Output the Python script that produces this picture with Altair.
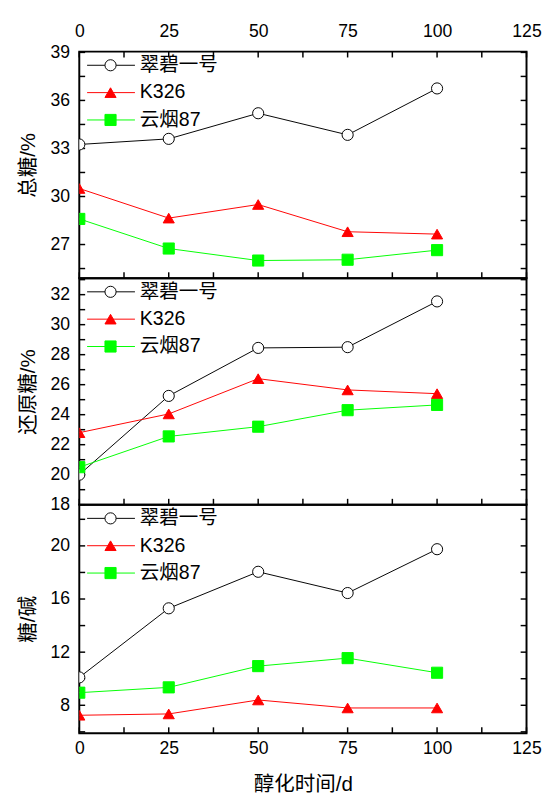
import altair as alt
import pandas as pd

FONT = "Liberation Sans, Noto Sans CJK SC"

days = [0, 25, 50, 75, 100]
series = ["翠碧一号", "K326", "云烟87"]
stroke_colors = ["black", "red", "#00ff00"]
fill_colors = ["white", "red", "#00ff00"]
shapes = ["circle", "triangle-up", "square"]

# 总糖/%
total_cuibi = [33.25, 33.6, 35.2, 33.85, 36.75]
total_k326 = [30.5, 28.65, 29.5, 27.8, 27.65]
total_yy87 = [28.6, 26.75, 26.0, 26.05, 26.65]

# 还原糖/%
reduc_cuibi = [20.0, 25.25, 28.45, 28.5, 31.55]
reduc_k326 = [22.8, 24.05, 26.4, 25.65, 25.4]
reduc_yy87 = [20.5, 22.55, 23.2, 24.3, 24.65]

# 糖/碱
ratio_cuibi = [10.1, 15.3, 18.05, 16.45, 19.75]
ratio_k326 = [7.25, 7.35, 8.4, 7.8, 7.8]
ratio_yy87 = [8.95, 9.35, 10.95, 11.55, 10.45]

x_ticks = [0, 12.5, 25, 37.5, 50, 62.5, 75, 87.5, 100, 112.5, 125]
y_ticks_total = [25.5, 27, 28.5, 30, 31.5, 33, 34.5, 36, 37.5, 39]
y_ticks_reduc = list(range(18, 34))
y_ticks_ratio = [6, 8, 10, 12, 14, 16, 18, 20, 22]
legend_rows = [14, 42, 70]

W = 458
TICK = 6


def long_df(a, b, c):
    rows = []
    for name, vals in zip(series, [a, b, c]):
        for d, v in zip(days, vals):
            rows.append({"day": d, "value": v, "series": name})
    return pd.DataFrame(rows)


legend_df = pd.DataFrame({"series": series})

stroke_enc = alt.Stroke("series:N", scale=alt.Scale(domain=series, range=stroke_colors), legend=None)
fill_enc = alt.Fill("series:N", scale=alt.Scale(domain=series, range=fill_colors), legend=None)
shape_enc = alt.Shape("series:N", scale=alt.Scale(domain=series, range=shapes), legend=None)


def label_axis(orient, values, label_expr, title=None, pad=10, title_pad=12):
    kw = dict(
        orient=orient, values=values, ticks=False, tickSize=0, domain=False,
        grid=False, labelFontSize=18, labelColor="black", labelFont=FONT,
        labelPadding=pad, labelExpr=label_expr, labelFlush=False,
    )
    if title is not None:
        kw.update(title=title, titleFontSize=21, titleFontWeight="normal",
                  titleFont=FONT, titleColor="black", titlePadding=title_pad)
    else:
        kw["title"] = None
    return alt.Axis(**kw)


def panel(df, ytitle, ydomain, yvals, ylabel_expr, top_labels, bottom_labels, top_ticks, H):
    xs = alt.Scale(domain=[0, 125], nice=False, zero=False)
    ys = alt.Scale(domain=ydomain, nice=False, zero=False)
    x_label_expr = "datum.value % 25 == 0 ? datum.label : ''"

    if top_labels:
        x_axis = label_axis("top", x_ticks, x_label_expr, pad=11)
    elif bottom_labels:
        x_axis = label_axis("bottom", x_ticks, x_label_expr, title="醇化时间/d", pad=7, title_pad=17)
    else:
        x_axis = None
    left_axis = label_axis("left", yvals, ylabel_expr, title=ytitle, pad=10, title_pad=12)

    layers = []
    base = alt.Chart(df)
    lines = base.mark_line(strokeWidth=1, clip=True).encode(
        x=alt.X("day:Q", scale=xs, axis=x_axis),
        y=alt.Y("value:Q", scale=ys, axis=left_axis),
        stroke=stroke_enc,
    )
    layers.append(lines)

    ydf = pd.DataFrame({"v": yvals})
    xdf = pd.DataFrame({"v": x_ticks})
    yt = alt.Chart(ydf).mark_rule(color="black", strokeWidth=1.5)
    layers.append(yt.encode(y=alt.Y("v:Q", scale=ys, axis=None),
                            x=alt.value(0), x2=alt.value(TICK)))
    layers.append(yt.encode(y=alt.Y("v:Q", scale=ys, axis=None),
                            x=alt.value(W - TICK), x2=alt.value(W)))
    xt = alt.Chart(xdf).mark_rule(color="black", strokeWidth=1.5)
    if top_ticks:
        layers.append(xt.encode(x=alt.X("v:Q", scale=xs, axis=None),
                                y=alt.value(0), y2=alt.value(TICK)))
    layers.append(xt.encode(x=alt.X("v:Q", scale=xs, axis=None),
                            y=alt.value(H - TICK), y2=alt.value(H)))

    points = base.mark_point(filled=False, strokeWidth=1, opacity=1, size=130, clip=True).encode(
        x=alt.X("day:Q", scale=xs, axis=None),
        y=alt.Y("value:Q", scale=ys, axis=None),
        stroke=stroke_enc, fill=fill_enc, shape=shape_enc,
    )
    layers.append(points)

    for name, ly in zip(series, legend_rows):
        lg = alt.Chart(legend_df).transform_filter(alt.datum.series == name)
        layers.append(lg.mark_rule(strokeWidth=1).encode(
            x=alt.value(8), x2=alt.value(57), y=alt.value(ly), stroke=stroke_enc))
        layers.append(lg.mark_point(filled=False, strokeWidth=1, opacity=1, size=130).encode(
            x=alt.value(32), y=alt.value(ly),
            stroke=stroke_enc, fill=fill_enc, shape=shape_enc))
        layers.append(lg.mark_text(align="left", baseline="middle", fontSize=20,
                                   font=FONT, color="black").encode(
            x=alt.value(62), y=alt.value(ly), text="series:N"))

    return alt.layer(*layers).resolve_axis(
        x="independent", y="independent"
    ).properties(width=W, height=H)


p1 = panel(long_df(total_cuibi, total_k326, total_yy87), "总糖/%", [24.9, 39.05],
           y_ticks_total, "datum.value % 3 == 0 ? datum.label : ''", True, False, True, 232)
p2 = panel(long_df(reduc_cuibi, reduc_k326, reduc_yy87), "还原糖/%", [18, 33.1],
           y_ticks_reduc, "datum.value % 2 == 0 ? datum.label : ''", False, False, False, 232)
p3 = panel(long_df(ratio_cuibi, ratio_k326, ratio_yy87), "糖/碱", [5.9, 23.1],
           y_ticks_ratio, "datum.value % 4 == 0 ? datum.label : ''", False, True, False, 234)

chart = alt.vconcat(p1, p2, p3, spacing=0, bounds="flush").properties(
    padding={"left": 8, "top": 5, "right": 5, "bottom": 5}
).configure(font=FONT).configure_view(stroke="black", strokeWidth=2)

chart.save("out.html", embed_options={"renderer": "svg", "actions": False})
